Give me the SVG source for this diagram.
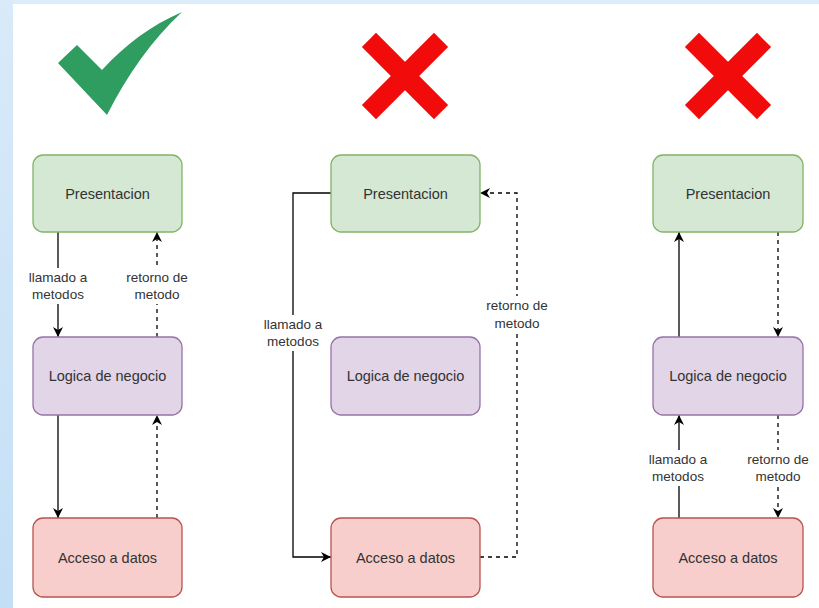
<svg xmlns="http://www.w3.org/2000/svg" width="819" height="608" viewBox="0 0 819 608">
  <defs>
    <linearGradient id="edge" x1="0" y1="0" x2="0" y2="1">
      <stop offset="0" stop-color="#d9eaf9"/>
      <stop offset="1" stop-color="#c3dff5"/>
    </linearGradient>
    <marker id="arrow" viewBox="0 0 10 10" refX="10" refY="5" markerWidth="10" markerHeight="10" markerUnits="userSpaceOnUse" orient="auto">
      <path d="M0,0 L10,5 L0,10 L3,5 Z" fill="#000"/>
    </marker>
    <g id="cross">
      <rect x="-51" y="-10" width="102" height="20" transform="rotate(45)"/>
      <rect x="-51" y="-10" width="102" height="20" transform="rotate(-45)"/>
    </g>
  </defs>
  <style>
    .box text { font-family: "Liberation Sans", Arial, sans-serif; font-size: 14.5px; fill: #333; text-anchor: middle; dominant-baseline: central; }
    .green rect { fill: #d5e8d4; stroke: #82b366; stroke-width: 1.3; }
    .purple rect { fill: #e1d5e7; stroke: #9673a6; stroke-width: 1.3; }
    .red rect { fill: #f8cecc; stroke: #b85450; stroke-width: 1.3; }
    .solid { fill: none; stroke: #000; stroke-width: 1.3; marker-end: url(#arrow); }
    .dashed { fill: none; stroke: #000; stroke-width: 1.3; stroke-dasharray: 4 4; marker-end: url(#arrow); }
    .lbl rect { fill: #fff; }
    .lbl text { font-family: "Liberation Sans", Arial, sans-serif; font-size: 13.5px; fill: #333; text-anchor: middle; dominant-baseline: central; }
  </style>

  <!-- page frame -->
  <rect x="0" y="0" width="819" height="608" fill="#fff"/>
  <rect x="0" y="0" width="819" height="4" fill="#dcecf9"/>
  <rect x="0" y="0" width="13" height="608" fill="url(#edge)"/>

  <!-- verdict icons -->
  <path id="check" d="M58,63 L77,45 L102,70 C126,44 150,26 182,12 C152,40 127,75 107,115 Z" fill="#2e9d5f"/>
  <use id="cross-mid" href="#cross" x="405" y="76" fill="#f10b0b"/>
  <use id="cross-right" href="#cross" x="728" y="76" fill="#f10b0b"/>

  <!-- connectors -->
  <g id="connectors">
    <!-- column 1 -->
    <path class="solid" d="M58,232 L58,337"/>
    <path class="dashed" d="M157,337 L157,232"/>
    <path class="solid" d="M58,415 L58,518"/>
    <path class="dashed" d="M157,518 L157,415"/>
    <!-- column 2 -->
    <path class="solid" d="M331,193 L293,193 L293,557 L331,557"/>
    <path class="dashed" d="M480,557 L517,557 L517,193 L480,193"/>
    <!-- column 3 -->
    <path class="solid" d="M679,337 L679,232"/>
    <path class="dashed" d="M778,232 L778,337"/>
    <path class="solid" d="M679,518 L679,415"/>
    <path class="dashed" d="M778,415 L778,518"/>

    <!-- edge labels -->
    <g class="lbl">
      <rect x="26" y="268" width="64" height="36"/>
      <text x="58" y="277">llamado a</text>
      <text x="58" y="294">metodos</text>
      <rect x="122" y="268" width="70" height="36"/>
      <text x="157" y="277">retorno de</text>
      <text x="157" y="294">metodo</text>

      <rect x="261" y="315" width="64" height="36"/>
      <text x="293" y="324">llamado a</text>
      <text x="293" y="341">metodos</text>
      <rect x="482" y="296" width="70" height="36"/>
      <text x="517" y="305">retorno de</text>
      <text x="517" y="323">metodo</text>

      <rect x="646" y="450" width="66" height="36"/>
      <text x="678" y="459">llamado a</text>
      <text x="678" y="476">metodos</text>
      <rect x="743" y="450" width="70" height="36"/>
      <text x="778" y="459">retorno de</text>
      <text x="778" y="476">metodo</text>
    </g>
  </g>

  <!-- column 1 nodes -->
  <g id="pres-1" class="box green"><rect x="33" y="155" width="149" height="77" rx="10"/><text x="107.5" y="193.5">Presentacion</text></g>
  <g id="logic-1" class="box purple"><rect x="33" y="337" width="149" height="78" rx="10"/><text x="107.5" y="376">Logica de negocio</text></g>
  <g id="data-1" class="box red"><rect x="33" y="518" width="149" height="79" rx="10"/><text x="107.5" y="557.5">Acceso a datos</text></g>

  <!-- column 2 nodes -->
  <g id="pres-2" class="box green"><rect x="331" y="155" width="149" height="77" rx="10"/><text x="405.5" y="193.5">Presentacion</text></g>
  <g id="logic-2" class="box purple"><rect x="331" y="337" width="149" height="78" rx="10"/><text x="405.5" y="376">Logica de negocio</text></g>
  <g id="data-2" class="box red"><rect x="331" y="518" width="149" height="79" rx="10"/><text x="405.5" y="557.5">Acceso a datos</text></g>

  <!-- column 3 nodes -->
  <g id="pres-3" class="box green"><rect x="653" y="155" width="150" height="77" rx="10"/><text x="728" y="193.5">Presentacion</text></g>
  <g id="logic-3" class="box purple"><rect x="653" y="337" width="150" height="78" rx="10"/><text x="728" y="376">Logica de negocio</text></g>
  <g id="data-3" class="box red"><rect x="653" y="518" width="150" height="79" rx="10"/><text x="728" y="557.5">Acceso a datos</text></g>
</svg>
